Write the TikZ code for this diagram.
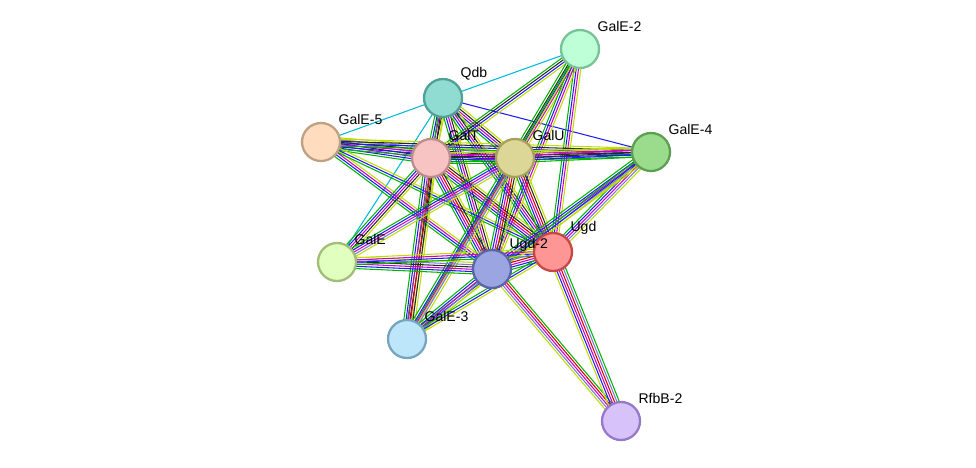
\documentclass[tikz,border=0pt]{standalone}
\usepackage{fontspec}
\setmainfont{Liberation Sans}
\usetikzlibrary{calc}
\definecolor{cur}{RGB}{0,185,215}
\definecolor{exp}{RGB}{200,0,200}
\definecolor{nbh}{RGB}{0,180,0}
\definecolor{fus}{RGB}{220,0,0}
\definecolor{coo}{RGB}{30,30,240}
\definecolor{txt}{RGB}{190,220,0}
\definecolor{cox}{RGB}{40,40,40}
\definecolor{hom}{RGB}{120,120,220}
\tikzset{
  edge/.style={line width=0.6pt},
  prot/.style={circle,draw,line width=1.3pt,minimum size=0.76cm,inner sep=0pt},
  lbl/.style={font=\fontsize{8}{9}\selectfont,inner sep=1pt,label distance=1pt}
}
% parallel coloured lines between two proteins
\newcommand\bundle[4]{%
  \foreach \c [count=\i] in {#4} {
    \pgfmathsetmacro\off{(\i-(#3+1)/2)*1.3}
    \draw[edge,\c] ($(#1)!\off pt!90:(#2)$) -- ($(#2)!\off pt!-90:(#1)$);
  }}
\begin{document}
\begin{tikzpicture}[x=0.02cm,y=-0.02cm]
\useasboundingbox (0,0) rectangle (976,467);
\coordinate (galeII) at (580,49);
\coordinate (qdb) at (443,98);
\coordinate (galeV) at (321,142);
\coordinate (galt) at (431,158);
\coordinate (galu) at (515,158);
\coordinate (galeIV) at (651,152);
\coordinate (gale) at (337,262);
\coordinate (ugdII) at (492,269);
\coordinate (ugd) at (553,252);
\coordinate (galeIII) at (407,339);
\coordinate (rfbb) at (621,421);

\bundle{qdb}{galeII}{1}{cur}
\bundle{qdb}{galeIV}{1}{coo}
\bundle{qdb}{galeV}{1}{cur}
\bundle{qdb}{gale}{1}{cur}
\bundle{qdb}{galt}{5}{nbh,coo,exp,cox,txt}
\bundle{qdb}{galu}{5}{nbh,coo,exp,cox,txt}
\bundle{qdb}{ugdII}{5}{nbh,coo,exp,cox,txt}
\bundle{qdb}{ugd}{5}{nbh,coo,exp,cox,txt}
\bundle{qdb}{galeIII}{3}{nbh,cox,txt}
\bundle{galeII}{galt}{4}{nbh,cox,coo,txt}
\bundle{galeII}{galu}{5}{nbh,cox,coo,exp,txt}
\bundle{galeII}{ugd}{4}{nbh,coo,exp,txt}
\bundle{galeII}{ugdII}{4}{nbh,coo,exp,txt}
\bundle{galeII}{galeIII}{2}{nbh,txt}
\bundle{galeV}{galt}{6}{nbh,coo,exp,cox,hom,txt}
\bundle{galeV}{galu}{6}{nbh,coo,exp,cox,hom,txt}
\bundle{galeV}{galeIV}{4}{nbh,coo,cox,txt}
\bundle{galeV}{ugdII}{4}{nbh,coo,exp,txt}
\bundle{galeV}{ugd}{3}{nbh,coo,txt}
\bundle{galt}{galu}{6}{nbh,coo,exp,cox,hom,txt}
\bundle{galt}{galeIV}{5}{nbh,coo,cox,exp,txt}
\bundle{galt}{ugd}{6}{nbh,coo,exp,fus,cox,txt}
\bundle{galt}{ugdII}{6}{nbh,coo,exp,fus,cox,txt}
\bundle{galt}{gale}{5}{nbh,coo,exp,cox,txt}
\bundle{galt}{galeIII}{6}{nbh,coo,exp,fus,cox,txt}
\bundle{galu}{galeIV}{5}{nbh,coo,cox,exp,txt}
\bundle{galu}{ugd}{6}{nbh,coo,exp,fus,cox,txt}
\bundle{galu}{ugdII}{6}{nbh,coo,exp,fus,cox,txt}
\bundle{galu}{gale}{5}{nbh,coo,exp,hom,txt}
\bundle{galu}{galeIII}{5}{nbh,coo,exp,hom,txt}
\bundle{galeIV}{ugd}{5}{nbh,coo,exp,hom,txt}
\bundle{galeIV}{ugdII}{5}{nbh,coo,exp,hom,txt}
\bundle{galeIV}{galeIII}{3}{nbh,coo,txt}
\bundle{gale}{ugdII}{6}{nbh,coo,exp,cox,hom,txt}
\bundle{gale}{ugd}{4}{nbh,coo,exp,txt}
\bundle{ugdII}{ugd}{6}{nbh,coo,exp,fus,hom,txt}
\bundle{ugdII}{galeIII}{5}{nbh,coo,exp,hom,txt}
\bundle{ugd}{galeIII}{3}{nbh,coo,txt}
\bundle{ugdII}{rfbb}{5}{txt,hom,exp,fus,nbh}
\bundle{ugd}{rfbb}{6}{txt,coo,exp,fus,hom,nbh}

\node[prot,fill={rgb,255:red,190;green,255;blue,215},draw={rgb,255:red,120;green,195;blue,150},label={[lbl]45:GalE-2}] (nGalEII) at (galeII) {};
\node[prot,fill={rgb,255:red,145;green,220;blue,210},draw={rgb,255:red,80;green,160;blue,150},label={[lbl]45:Qdb}] (nQdb) at (qdb) {};
\node[prot,fill={rgb,255:red,255;green,220;blue,190},draw={rgb,255:red,190;green,160;blue,130},label={[lbl]45:GalE-5}] (nGalEV) at (galeV) {};
\node[prot,fill={rgb,255:red,248;green,195;blue,195},draw={rgb,255:red,190;green,140;blue,140},label={[lbl]45:GalT}] (nGalT) at (galt) {};
\node[prot,fill={rgb,255:red,220;green,215;blue,150},draw={rgb,255:red,165;green,160;blue,90},label={[lbl]45:GalU}] (nGalU) at (galu) {};
\node[prot,fill={rgb,255:red,155;green,220;blue,140},draw={rgb,255:red,90;green,160;blue,80},label={[lbl]45:GalE-4}] (nGalEIV) at (galeIV) {};
\node[prot,fill={rgb,255:red,225;green,255;blue,190},draw={rgb,255:red,160;green,190;blue,120},label={[lbl]45:GalE}] (nGalE) at (gale) {};
\node[prot,fill={rgb,255:red,255;green,150;blue,150},draw={rgb,255:red,200;green,70;blue,70},label={[lbl]45:Ugd}] (nUgd) at (ugd) {};
\node[prot,fill={rgb,255:red,155;green,165;blue,225},draw={rgb,255:red,90;green,100;blue,170},label={[lbl]45:Ugd-2}] (nUgdII) at (ugdII) {};
\node[prot,fill={rgb,255:red,190;green,230;blue,250},draw={rgb,255:red,120;green,165;blue,190},label={[lbl]45:GalE-3}] (nGalEIII) at (galeIII) {};
\node[prot,fill={rgb,255:red,215;green,195;blue,250},draw={rgb,255:red,150;green,120;blue,200},label={[lbl]45:RfbB-2}] (nRfbB) at (rfbb) {};
\end{tikzpicture}
\end{document}
